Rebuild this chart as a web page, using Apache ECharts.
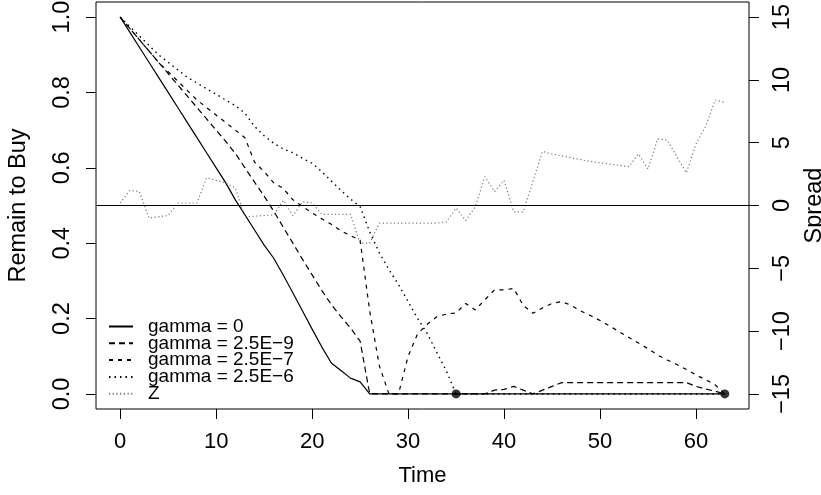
<!DOCTYPE html>
<html>
<head>
<meta charset="utf-8">
<script src="https://cdn.jsdelivr.net/npm/echarts@6/dist/echarts.min.js"></script>
<style>html,body{margin:0;padding:0;background:#fff}#c{width:821px;height:495px}</style>
</head>
<body>
<div id="c"></div>
<script>
const time = [0,1,2,3,4,5,6,7,8,9,10,11,12,13,14,15,16,17,18,19,20,21,22,23,24,25,26,27,28,29,30,31,32,33,34,35,36,37,38,39,40,41,42,43,44,45,46,47,48,49,50,51,52,53,54,55,56,57,58,59,60,61,62,63];
const gamma0 = [1.0,0.96,0.92,0.88,0.84,0.80,0.76,0.72,0.68,0.64,0.60,0.56,0.515,0.475,0.435,0.395,0.36,0.315,0.268,0.22,0.172,0.125,0.082,0.062,0.042,0.032,0,
  0,0,0,0,0,0,0,0,0,0,0,0,0,0,0,0,0,0,0,0,0,0,0,0,0,0,0,0,0,0,0,0,0,0,0,0,0,0,0,0,0,0];
const gamma9 = [1.0,0.97,0.94,0.91,0.88,0.85,0.82,0.79,0.76,0.73,0.70,0.67,0.638,0.60,0.562,0.525,0.485,0.442,0.40,0.357,0.316,0.275,0.237,0.205,0.175,0.14,0,
  0,0,0,0,0,0,0,0,0,0,0,0,0.01,0.012,0.02,0.01,0,0.01,0.02,0.03,0.03,0.03,0.03,0.03,0.03,0.03,0.03,0.03,0.03,0.03,0.03,0.03,0.03,0.02,0.013,0.007,0];
const gamma7 = [1.0,0.97,0.94,0.91,0.88,0.855,0.83,0.805,0.78,0.76,0.74,0.72,0.70,0.68,0.615,0.59,0.56,0.545,0.515,0.497,0.48,0.465,0.45,0.433,0.42,0.408,0.22,0.075,0,0,
  0.10,0.16,0.185,0.205,0.212,0.215,0.24,0.223,0.25,0.276,0.276,0.28,0.235,0.214,0.228,0.24,0.245,0.235,0.22,0.208,0.195,0.18,0.165,0.15,0.135,0.12,0.103,0.09,0.078,0.065,0.05,0.038,0.024,0];
const gamma6 = [1.0,0.975,0.95,0.925,0.90,0.88,0.86,0.84,0.825,0.81,0.795,0.78,0.765,0.745,0.71,0.685,0.665,0.65,0.64,0.625,0.612,0.59,0.565,0.54,0.517,0.497,0.43,0.375,0.33,0.29,0.245,0.20,0.16,0.11,0.06,0,
  0,0,0,0,0,0,0,0,0,0,0,0,0,0,0,0,0,0,0,0,0,0,0,0,0,0,0,0];
const spreadZ = [0.2,1.2,1.1,-1.0,-0.9,-0.8,0.2,0.2,0.2,2.2,2.0,1.8,1.4,-0.9,-0.85,-0.8,-0.75,0.4,-0.8,0.3,0.2,-0.7,-0.7,-0.7,-0.7,-3.0,-3.0,-1.4,-1.4,-1.4,
  -1.4,-1.4,-1.4,-1.4,-1.3,-0.2,-1.2,-0.1,2.3,1.1,2.0,-0.5,-0.5,1.9,4.3,4.1,3.95,3.8,3.65,3.5,3.4,3.3,3.2,3.1,4.1,2.9,5.3,5.2,3.9,2.6,4.9,6.3,8.4,8.2];
const doneTimes = [35, 63];
const doneValues = [0, 0];
const xTicks = [0,10,20,30,40,50,60];
const leftTicks = [0,0.2,0.4,0.6,0.8,1.0];
const rightTicks = [-15,-10,-5,0,5,10,15];
const names = ['gamma = 0','gamma = 2.5E\u22129','gamma = 2.5E\u22127','gamma = 2.5E\u22126','Z'];

const pair = (ys) => time.map((t,i)=>[t, ys[i]]);
const FONT = 'Liberation Sans, Arial, Helvetica, sans-serif';

const chart = echarts.init(document.getElementById('c'), null, {renderer:'canvas'});
const lineSeries = (name, ys, dash, color, yIdx, w) => ({
  name, type:'line', data: pair(ys), yAxisIndex: yIdx, symbol:'none', showSymbol:false,
  animation:false, z: 3,
  lineStyle: {color, width: w, type: dash},
  itemStyle: {color}
});
const option = {
  animation: false,
  grid: {left: 96, right: 72, top: 2, bottom: 86, show: true, borderColor: '#000', borderWidth: 1,
    backgroundColor: 'transparent', containLabel: false, outerBoundsMode: 'none'},
  legend: {
    data: names, orient: 'vertical', left: 103, top: 312, itemWidth: 24, itemHeight: 10, itemGap: -2.2,
    itemStyle: {opacity: 0},
    textStyle: {fontFamily: FONT, fontSize: 19, color: '#000', lineHeight: 16.5, padding: [0,0,0,10]},
    selectedMode: false
  },
  xAxis: {
    type: 'value', min: -2.52, max: 65.52,
    name: 'Time', nameLocation: 'middle', nameGap: 56,
    nameTextStyle: {fontFamily: FONT, fontSize: 22, color: '#000'},
    axisLine: {show: false, onZero: false},
    axisTick: {show: true, length: 10, lineStyle: {color: '#000'}, customValues: xTicks},
    axisLabel: {fontFamily: FONT, fontSize: 22, color: '#000', margin: 22, customValues: xTicks},
    splitLine: {show: false}
  },
  yAxis: [{
    type: 'value', position: 'left', min: -0.04, max: 1.04,
    name: 'Remain to Buy', nameLocation: 'middle', nameGap: 65,
    nameTextStyle: {fontFamily: FONT, fontSize: 23.5, color: '#000'},
    axisLine: {show: false, onZero: false},
    axisTick: {show: true, length: 10, lineStyle: {color: '#000'}, customValues: leftTicks},
    axisLabel: {fontFamily: FONT, fontSize: 23.5, color: '#000', margin: 21, rotate: 90, customValues: leftTicks,
      formatter: v => v.toFixed(1)},
    splitLine: {show: false}
  }, {
    type: 'value', position: 'right', min: -16.2, max: 16.2,
    name: 'Spread', nameLocation: 'middle', nameGap: 51,
    nameTextStyle: {fontFamily: FONT, fontSize: 23.5, color: '#000'},
    axisLine: {show: false, onZero: false},
    axisTick: {show: true, length: 10, lineStyle: {color: '#000'}, customValues: rightTicks},
    axisLabel: {fontFamily: FONT, fontSize: 23.5, color: '#000', margin: 22, rotate: 90, customValues: rightTicks,
      formatter: v => (v < 0 ? '\u2212' + Math.abs(v) : String(v))},
    splitLine: {show: false}
  }],
  series: [
    lineSeries(names[0], gamma0, 'solid', '#000', 0, 1.2),
    lineSeries(names[1], gamma9, [6,4], '#000', 0, 1.2),
    lineSeries(names[2], gamma7, [4,5], '#000', 0, 1.2),
    lineSeries(names[3], gamma6, [1.5,4], '#000', 0, 1.4),
    Object.assign(lineSeries(names[4], spreadZ, [1.2,2.5], '#777', 1, 1.2), {
      markLine: {silent: true, symbol: ['none','none'], label: {show: false},
        lineStyle: {color: '#000', type: 'solid', width: 1.2},
        data: [{yAxis: 0}], animation: false}
    }),
    {name: 'done', type: 'scatter', yAxisIndex: 0, data: doneTimes.map((t,i)=>[t, doneValues[i]]),
      symbol: 'circle', symbolSize: 9, itemStyle: {color: '#000'}, z: 5, animation: false}
  ]
};
chart.setOption(option);
</script>
</body>
</html>
